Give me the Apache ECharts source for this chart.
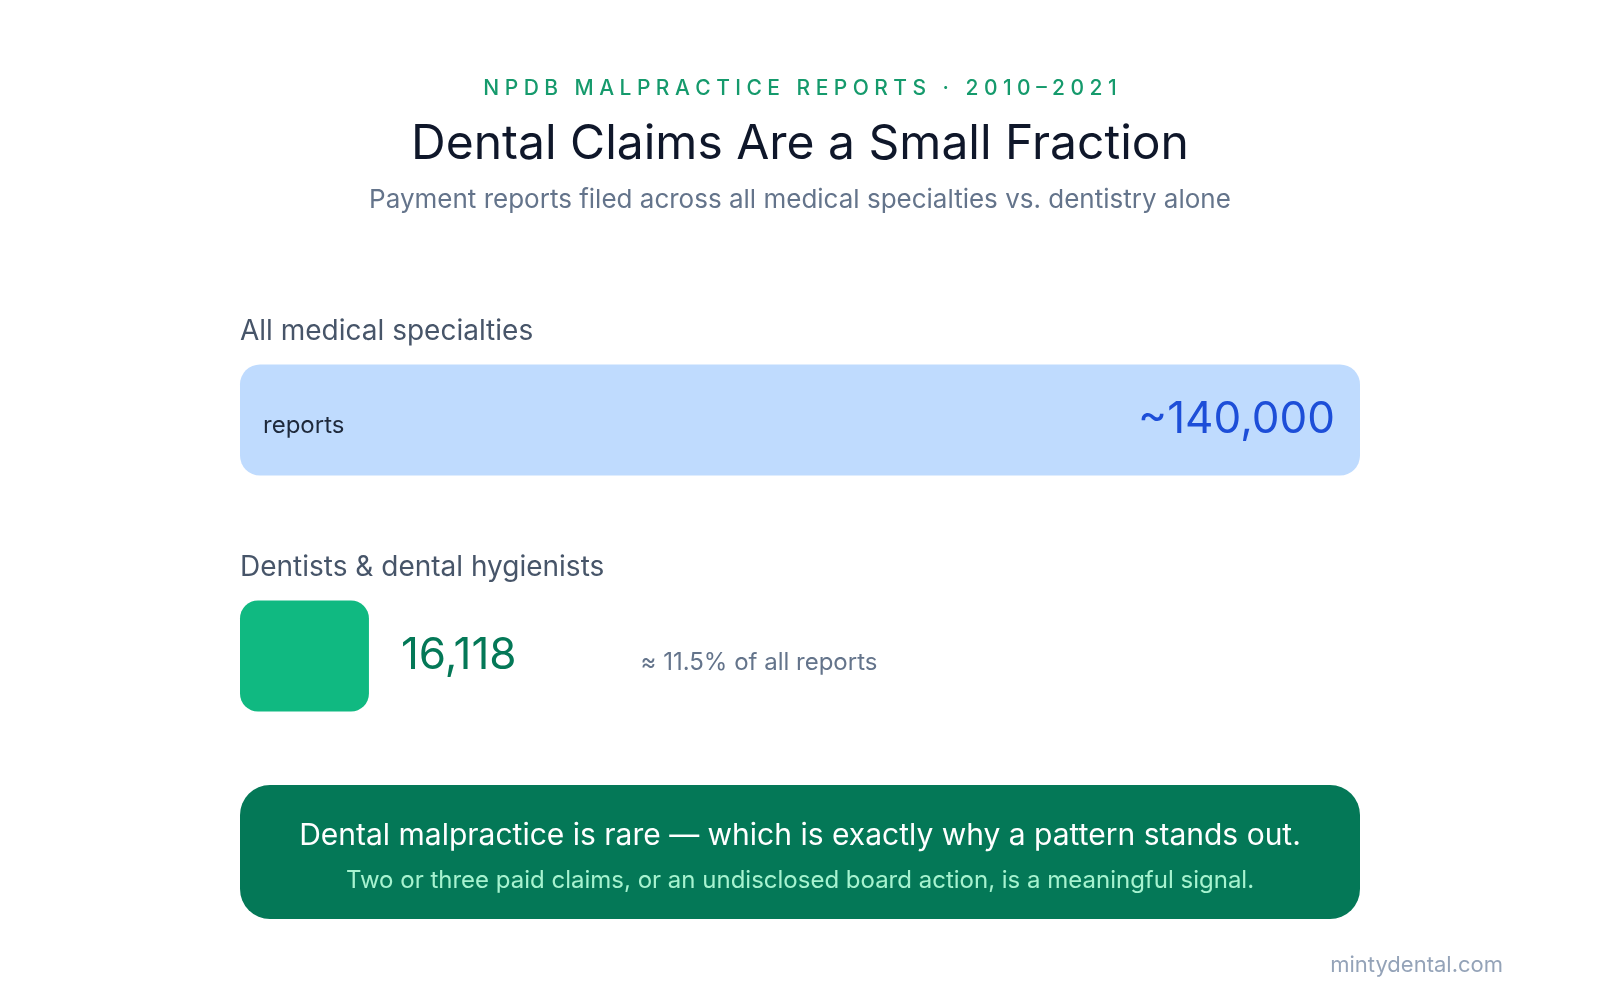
<!DOCTYPE html>
<html>
<head>
<meta charset="utf-8">
<title>Dental Claims Are a Small Fraction</title>
<script src="https://cdn.jsdelivr.net/npm/echarts@6/dist/echarts.min.js"></script>
<style>
  html, body { margin: 0; padding: 0; background: #ffffff; }
  #chart { width: 1600px; height: 1000px; }
</style>
</head>
<body>
<div id="chart"></div>
<script>
/* ========== data ========== */
const groups = ["All medical specialties", "Dentists & dental hygienists"];
const reportCounts = [140000, 16118];
const approxFlags = [true, false];
const unitLabel = "reports";

const eyebrow = "NPDB MALPRACTICE REPORTS · 2010–2021";
const headline = "Dental Claims Are a Small Fraction";
const subhead = "Payment reports filed across all medical specialties vs. dentistry alone";
const calloutMain = "Dental malpractice is rare — which is exactly why a pattern stands out.";
const calloutSub = "Two or three paid claims, or an undisclosed board action, is a meaningful signal.";
const source = "mintydental.com";

const FONT = "Inter, 'Noto Sans', sans-serif";
const barColors = ["#bfdbfe", "#10b981"];

// canvas has no letter-spacing, so pad the eyebrow with thin spaces
function spaced(s) {
    return s.split("").join("\u2009\u200A");
}

function fmt(v) { return v.toLocaleString("en-US"); }

const share = (reportCounts[1] / reportCounts[0] * 100).toFixed(1);

const chart = echarts.init(document.getElementById("chart"));

chart.setOption({
    backgroundColor: "#ffffff",
    animation: false,
    title: [
        {
            text: spaced(eyebrow), left: "center", top: 73,
            textStyle: { fontFamily: FONT, fontSize: 21, fontWeight: 500, color: "#159a6c" }
        },
        {
            text: headline, left: "center", top: 116,
            textStyle: { fontFamily: FONT, fontSize: 48, fontWeight: 400, color: "#0f172a" }
        },
        {
            text: subhead, left: "center", top: 182,
            textStyle: { fontFamily: FONT, fontSize: 26, fontWeight: 400, color: "#64748b" }
        },
        {
            text: source, right: 92, top: 949,
            textStyle: { fontFamily: FONT, fontSize: 22, fontWeight: 400, color: "#94a3b8" }
        }
    ],
    grid: { left: 240, right: 240, top: 302, height: 472 },
    xAxis: {
        type: "value", min: 0, max: "dataMax", show: false
    },
    yAxis: {
        type: "category",
        inverse: true,
        data: groups,
        show: false
    },
    series: [
        {
            name: "reports",
            type: "bar",
            barWidth: 111,
            data: reportCounts.map((v, i) => ({
                value: v,
                itemStyle: { color: barColors[i], borderRadius: i === 0 ? 20 : 18 },
                label: i === 0 ? {
                    show: true, position: "insideLeft", distance: 23, offset: [0, 6],
                    formatter: unitLabel,
                    fontFamily: FONT, fontSize: 24, color: "#1e293b"
                } : {
                    show: true, position: "right", distance: 32,
                    formatter: () => `{v|${fmt(v)}}{n|≈ ${share}% of all ${unitLabel}}`,
                    rich: {
                        v: { fontFamily: FONT, fontSize: 44, color: "#047857", verticalAlign: "middle" },
                        n: { fontFamily: FONT, fontSize: 24, color: "#64748b", padding: [14, 0, 0, 124] }
                    }
                }
            }))
        },
        {
            // value labels on the right edge of the big bar
            name: "values",
            type: "bar",
            barWidth: 111,
            barGap: "-100%",
            silent: true,
            data: reportCounts.map((v, i) => ({
                value: v,
                itemStyle: { color: "rgba(0,0,0,0)" },
                label: approxFlags[i] ? {
                    show: true, position: "insideRight", distance: 25,
                    formatter: "~" + fmt(v),
                    fontFamily: FONT, fontSize: 44, color: "#1d4ed8"
                } : { show: false }
            }))
        }
    ]
});

// row titles sit above each bar, placed from the category axis
const rowTitles = groups.map(g => {
    const y = chart.convertToPixel({ yAxisIndex: 0 }, g);
    return {
        type: "text",
        x: 240, y: y - 88,
        style: {
            text: g, align: "left", verticalAlign: "middle",
            font: `400 28px ${FONT}`, fill: "#475569"
        }
    };
});

chart.setOption({
    graphic: rowTitles.concat([
        {
            type: "group",
            left: 240, top: 785,
            children: [
                {
                    type: "rect",
                    shape: { x: 0, y: 0, width: 1120, height: 134, r: 30 },
                    style: { fill: "#047857" }
                },
                {
                    type: "text",
                    x: 560, y: 51,
                    style: {
                        text: calloutMain, align: "center", verticalAlign: "middle",
                        font: `400 30px ${FONT}`, fill: "#ffffff"
                    }
                },
                {
                    type: "text",
                    x: 560, y: 96,
                    style: {
                        text: calloutSub, align: "center", verticalAlign: "middle",
                        font: `400 24px ${FONT}`, fill: "#a7f3d0"
                    }
                }
            ]
        }
    ])
});
</script>
</body>
</html>
